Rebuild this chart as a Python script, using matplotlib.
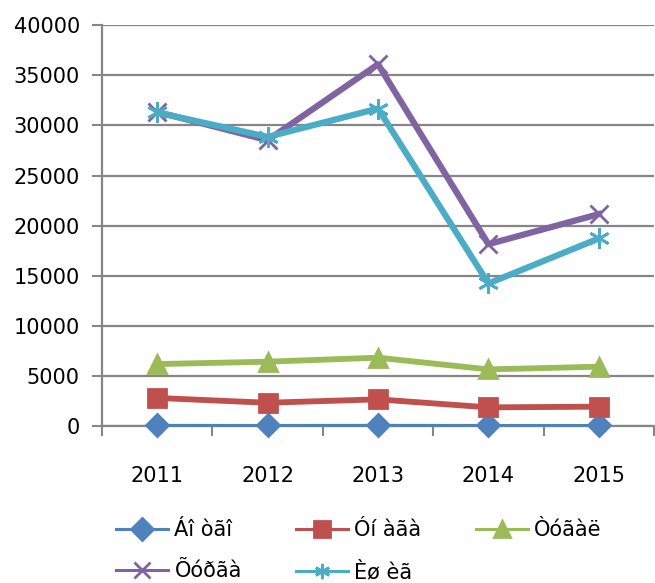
import matplotlib
matplotlib.use('Agg')
import matplotlib.pyplot as plt

years = ['2011', '2012', '2013', '2014', '2015']
series_names = ['Áî òãî', 'Óí àãà', 'Òóãàë', 'Õóðãà', 'Èø èã']
botgo = [60, 50, 60, 50, 50]
unaga = [2800, 2320, 2660, 1860, 1930]
tugal = [6180, 6420, 6820, 5650, 5920]
hurga = [31350, 28530, 36110, 18150, 21150]
ishig = [31300, 28860, 31690, 14230, 18720]
y_ticks = [0, 5000, 10000, 15000, 20000, 25000, 30000, 35000, 40000]

colors = ['#4F81BD', '#C0504D', '#9BBB59', '#8064A2', '#4BACC6']
markers = ['D', 's', '^', 'x', (6, 2, 0)]
msizes = [11, 13, 13, 13, 15]
lwidths = [2.2, 4.2, 4.2, 4.5, 4.5]
grid_col = '#868686'

plt.rcParams['font.family'] = ['DejaVu Sans']
fig = plt.figure(figsize=(6.55, 5.83), dpi=100)
ax = fig.add_axes([102 / 655, 157 / 583, 552 / 655, 400.7 / 583])

x = list(range(len(years)))
handles = []
for vals, name, c, m, ms, lw in zip([botgo, unaga, tugal, hurga, ishig], series_names,
                                    colors, markers, msizes, lwidths):
    h, = ax.plot(x, vals, color=c, lw=lw, marker=m, ms=ms, mew=2,
                 mec=c, mfc=c, label=name, clip_on=False, zorder=3)
    handles.append(h)

ax.set_xlim(-0.5, len(years) - 0.5)
ax.set_ylim(0, 40000)
ax.set_yticks(y_ticks)
ax.set_yticklabels([str(v) for v in y_ticks])
ax.set_xticks([i - 0.5 for i in range(len(years) + 1)])
ax.set_xticklabels([])
ax.set_xticks(x, minor=True)
ax.set_xticklabels(years, minor=True)
ax.tick_params(axis='x', which='minor', length=0, pad=29, labelsize=15)
ax.tick_params(axis='x', which='major', length=7, width=1.5, color=grid_col)
ax.tick_params(axis='y', length=7, width=1.5, color=grid_col, pad=9, labelsize=15)

ax.yaxis.grid(True, color=grid_col, lw=1.6)
ax.set_axisbelow(True)
for s in ['top', 'right']:
    ax.spines[s].set_visible(False)
for s in ['left', 'bottom']:
    ax.spines[s].set_color(grid_col)
    ax.spines[s].set_linewidth(1.6)

# legend fills column by column, so reorder to get rows like the reference
order = [0, 3, 1, 4, 2]
leg = fig.legend([handles[i] for i in order], [series_names[i] for i in order],
                 ncol=3, loc='lower left', bbox_to_anchor=(115 / 655, 0.0),
                 frameon=False, fontsize=15, handlelength=2.5, handletextpad=0.3,
                 columnspacing=2.6, labelspacing=1.0, borderpad=0.0,
                 borderaxespad=0.05)
for lh in leg.get_lines():
    lh.set_linewidth(2.2)
    lh.set_markersize(11)

fig.savefig('out.png', dpi=100)
